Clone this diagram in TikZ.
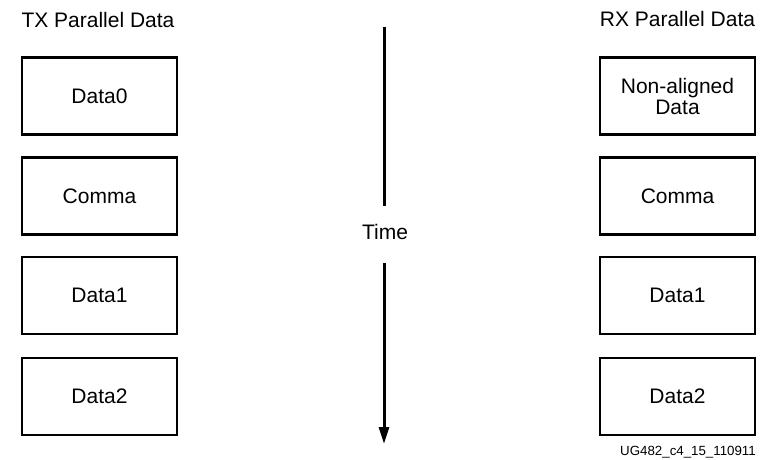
\documentclass[tikz,border=0pt]{standalone}
\usepackage{fontspec}
\setmainfont{Liberation Sans}
\usetikzlibrary{arrows.meta}
\begin{document}
\begin{tikzpicture}[x=1pt,y=1pt,
  databox/.style={draw=black, line width=2.6pt, minimum width=155pt, minimum height=77pt, inner sep=0pt, font=\fontsize{21}{22}\selectfont, align=center},
  headtext/.style={font=\fontsize{21}{25}\selectfont, inner sep=0pt, anchor=base},
  timeline/.style={line width=3pt, draw=black},
]
\useasboundingbox (0,0) rectangle (768,-460);
% headings
\node[headtext] (txh) at (98,-28) {TX Parallel Data};
\node[headtext] (rxh) at (677.5,-27) {RX Parallel Data};
% left column
\node[databox] (t0) at (99.5,-96) {Data0};
\node[databox] (t1) at (99.5,-196) {Comma};
\node[databox] (t2) at (99.5,-295.5) {Data1};
\node[databox] (t3) at (99.5,-396.5) {Data2};
% right column
\node[databox] (r0) at (677.5,-96) {Non-aligned\\[-1pt]Data};
\node[databox] (r1) at (677.5,-196) {Comma};
\node[databox] (r2) at (677.5,-295.5) {Data1};
\node[databox] (r3) at (677.5,-396.5) {Data2};
% time arrow
\coordinate (ttop) at (384,-27);
\coordinate (tbot) at (384,-444);
\node[font=\fontsize{21}{25}\selectfont, inner sep=0pt, minimum height=57pt, text height=9pt, text depth=0pt] (time) at (385,-234.5) {Time};
\draw[timeline] (ttop) -- (ttop |- time.north);
\draw[timeline, -{Triangle[width=10pt,length=17pt]}] (ttop |- time.south) -- (tbot);
% footer
\node[font=\fontsize{13.3}{15}\selectfont, inner sep=0pt, anchor=base east] (fig) at (756,-455) {UG482\_c4\_15\_110911};
\end{tikzpicture}
\end{document}
